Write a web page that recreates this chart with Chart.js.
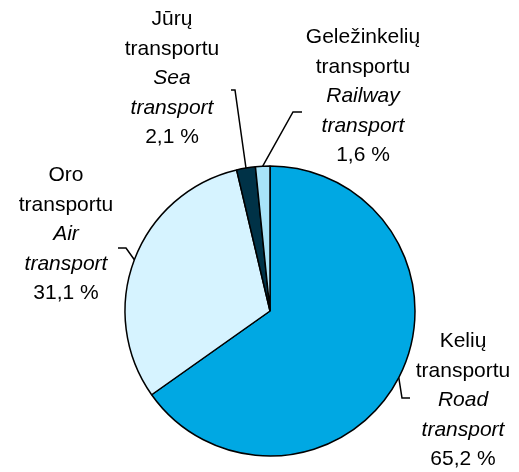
<!DOCTYPE html>
<html>
<head>
<meta charset="utf-8">
<script src="https://cdn.jsdelivr.net/npm/chart.js@4/dist/chart.umd.min.js"></script>
<style>
html,body{margin:0;padding:0;background:#fff;}
#wrap{position:relative;width:519px;height:472px;}
</style>
</head>
<body>
<div id="wrap"><canvas id="c" width="519" height="472"></canvas></div>
<script>
const categoriesLT = ["Kelių transportu", "Oro transportu", "Jūrų transportu", "Geležinkelių transportu"];
const categoriesEN = ["Road transport", "Air transport", "Sea transport", "Railway transport"];
const values = [65.2, 31.1, 2.1, 1.6];
const colors = ["#00A8E3", "#D6F3FF", "#003247", "#A8E3F8"];

// label layout: centre x, first baseline y, elbow point, end point of leader
const labelLayout = [
  { cx: 463, by: 347, lines: [["Kelių", false], ["transportu", false], ["Road", true], ["transport", true]], elbow: [402, 398], end: [410, 398] },
  { cx: 66,  by: 181, lines: [["Oro", false], ["transportu", false], ["Air", true], ["transport", true]], elbow: [126, 248], end: [118, 248] },
  { cx: 172, by: 25,  lines: [["Jūrų", false], ["transportu", false], ["Sea", true], ["transport", true]], elbow: [235, 90], end: [231, 90] },
  { cx: 363, by: 43,  lines: [["Geležinkelių", false], ["transportu", false], ["Railway", true], ["transport", true]], elbow: [293, 112], end: [302, 112] }
];
const lineGap = 29.6;

const labelPlugin = {
  id: 'labels',
  afterDraw(chart) {
    const ctx = chart.ctx;
    const meta = chart.getDatasetMeta(0);
    ctx.save();
    meta.data.forEach((arc, i) => {
      const p = arc.getProps(['x', 'y', 'startAngle', 'endAngle', 'outerRadius'], true);
      const mid = (p.startAngle + p.endAngle) / 2;
      const sx = p.x + Math.cos(mid) * p.outerRadius;
      const sy = p.y + Math.sin(mid) * p.outerRadius;
      const L = labelLayout[i];
      ctx.strokeStyle = '#000';
      ctx.lineWidth = 1.5;
      ctx.beginPath();
      ctx.moveTo(sx, sy);
      ctx.lineTo(L.elbow[0], L.elbow[1]);
      ctx.lineTo(L.end[0], L.end[1]);
      ctx.stroke();
      ctx.fillStyle = '#000';
      ctx.textAlign = 'center';
      ctx.textBaseline = 'alphabetic';
      const all = L.lines.concat([[values[i].toFixed(1).replace('.', ',') + ' %', false]]);
      all.forEach((ln, k) => {
        ctx.font = (ln[1] ? 'italic ' : '') + '21px "Liberation Sans", Arial, sans-serif';
        ctx.fillText(ln[0], L.cx, L.by + k * lineGap);
      });
    });
    ctx.restore();
  }
};

new Chart(document.getElementById('c'), {
  type: 'pie',
  data: {
    labels: categoriesLT,
    datasets: [{
      data: values,
      backgroundColor: colors,
      borderColor: '#000',
      borderWidth: 1.5
    }]
  },
  options: {
    responsive: false,
    animation: false,
    radius: 145,
    layout: { padding: { left: 121, right: 100, top: 160, bottom: 10 } },
    plugins: { legend: { display: false }, tooltip: { enabled: false } }
  },
  plugins: [labelPlugin]
});
</script>
</body>
</html>
